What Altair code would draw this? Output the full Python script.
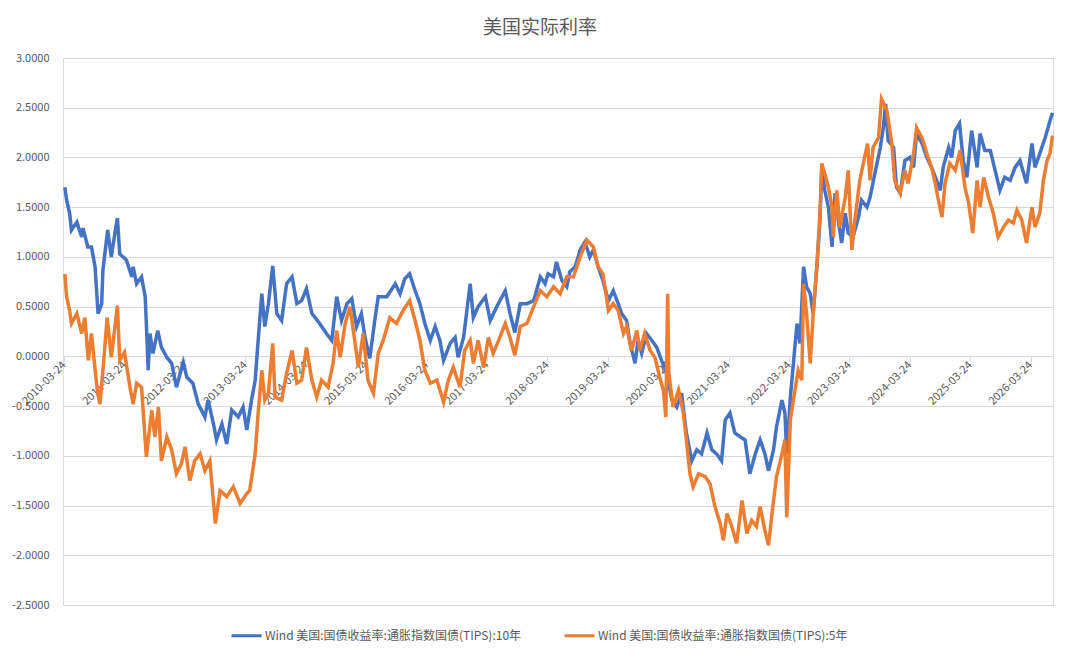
import altair as alt
import pandas as pd

TITLE = "美国实际利率"
NAME10 = "Wind 美国:国债收益率:通胀指数国债(TIPS):10年"
NAME5 = "Wind 美国:国债收益率:通胀指数国债(TIPS):5年"

# decimal-year positions and values
t10 = [2010.24, 2010.27, 2010.32, 2010.35, 2010.44, 2010.52, 2010.54, 2010.62, 2010.68, 2010.74,
       2010.79, 2010.85, 2010.87, 2010.95, 2011.01, 2011.07, 2011.11, 2011.15, 2011.26, 2011.35,
       2011.37, 2011.43, 2011.51, 2011.57, 2011.59, 2011.62, 2011.65, 2011.70, 2011.78, 2011.84,
       2011.93, 2012.01, 2012.09, 2012.20, 2012.26, 2012.36, 2012.45, 2012.56, 2012.61, 2012.70,
       2012.75, 2012.84, 2012.92, 2013.00, 2013.11, 2013.19, 2013.25, 2013.33, 2013.39, 2013.44,
       2013.50, 2013.55, 2013.61, 2013.68, 2013.75, 2013.83, 2013.91, 2014.00, 2014.08, 2014.16,
       2014.24, 2014.33, 2014.46, 2014.57, 2014.66, 2014.74, 2014.82, 2014.91, 2014.99, 2015.07,
       2015.15, 2015.21, 2015.29, 2015.37, 2015.43, 2015.57, 2015.71, 2015.79, 2015.87, 2015.95,
       2016.04, 2016.12, 2016.20, 2016.29, 2016.37, 2016.45, 2016.51, 2016.62, 2016.70, 2016.75,
       2016.84, 2016.95, 2017.00, 2017.08, 2017.20, 2017.28, 2017.39, 2017.53, 2017.61, 2017.69,
       2017.78, 2017.89, 2018.00, 2018.11, 2018.19, 2018.24, 2018.33, 2018.38, 2018.47, 2018.55,
       2018.60, 2018.69, 2018.77, 2018.85, 2018.93, 2018.99, 2019.07, 2019.15, 2019.24, 2019.32,
       2019.40, 2019.46, 2019.54, 2019.60, 2019.68, 2019.73, 2019.79, 2019.87, 2019.96, 2020.04,
       2020.12, 2020.20, 2020.29, 2020.37, 2020.45, 2020.53, 2020.62, 2020.70, 2020.78, 2020.87,
       2020.95, 2021.03, 2021.11, 2021.17, 2021.25, 2021.33, 2021.42, 2021.50, 2021.58, 2021.67,
       2021.75, 2021.83, 2021.89, 2021.97, 2022.02, 2022.11, 2022.16, 2022.19, 2022.25, 2022.36,
       2022.41, 2022.47, 2022.52, 2022.58, 2022.63, 2022.69, 2022.74, 2022.77, 2022.82, 2022.88,
       2022.94, 2022.99, 2023.05, 2023.10, 2023.16, 2023.21, 2023.29, 2023.38, 2023.43, 2023.52,
       2023.57, 2023.65, 2023.74, 2023.79, 2023.83, 2023.87, 2023.96, 2024.01, 2024.07, 2024.15,
       2024.23, 2024.29, 2024.34, 2024.43, 2024.51, 2024.59, 2024.67, 2024.73, 2024.78, 2024.87,
       2024.92, 2024.98, 2025.05, 2025.11, 2025.17, 2025.25, 2025.34, 2025.39, 2025.47, 2025.56,
       2025.64, 2025.72, 2025.80, 2025.89, 2025.97, 2026.05, 2026.16, 2026.25, 2026.30, 2026.38,
       2026.47, 2026.55, 2026.59]
v10 = [1.70, 1.57, 1.44, 1.27, 1.35, 1.20, 1.29, 1.10, 1.10, 0.90,
       0.43, 0.53, 0.86, 1.27, 1.00, 1.24, 1.39, 1.03, 0.97, 0.80,
       0.90, 0.73, 0.80, 0.60, 0.33, -0.14, 0.23, 0.03, 0.26, 0.09,
       -0.01, -0.07, -0.31, -0.06, -0.21, -0.27, -0.48, -0.61, -0.44, -0.68,
       -0.84, -0.68, -0.88, -0.54, -0.61, -0.51, -0.74, -0.44, -0.24, 0.16,
       0.63, 0.30, 0.53, 0.91, 0.43, 0.36, 0.73, 0.80, 0.53, 0.56,
       0.68, 0.43, 0.33, 0.23, 0.16, 0.60, 0.36, 0.53, 0.58, 0.30,
       0.43, 0.19, -0.02, 0.36, 0.60, 0.60, 0.73, 0.63, 0.78, 0.83,
       0.66, 0.53, 0.33, 0.16, 0.30, 0.16, -0.04, 0.13, 0.19, -0.01,
       0.19, 0.73, 0.39, 0.50, 0.60, 0.36, 0.50, 0.66, 0.43, 0.24,
       0.53, 0.53, 0.56, 0.80, 0.73, 0.83, 0.80, 0.95, 0.76, 0.70,
       0.85, 0.90, 1.07, 1.15, 1.00, 1.07, 0.90, 0.76, 0.56, 0.66,
       0.53, 0.43, 0.36, 0.13, -0.07, 0.16, 0.03, 0.23, 0.16, 0.09,
       -0.04, -0.17, -0.44, -0.51, -0.37, -0.77, -1.05, -0.94, -0.98, -0.77,
       -0.94, -0.98, -1.05, -0.64, -0.57, -0.77, -0.81, -0.84, -1.18, -0.98,
       -0.84, -0.98, -1.15, -0.94, -0.71, -0.44, -0.57, -0.98, -0.41, 0.33,
       0.13, 0.90, 0.70, 0.63, 0.43, 0.90, 1.37, 1.90, 1.67, 1.50,
       1.10, 1.64, 1.34, 1.14, 1.44, 1.24, 1.20, 1.40, 1.57, 1.50,
       1.60, 1.84, 2.10, 2.30, 2.54, 2.17, 2.10, 1.70, 1.64, 1.97,
       2.00, 1.90, 2.24, 2.14, 2.00, 1.90, 1.77, 1.67, 1.90, 2.10,
       2.00, 2.27, 2.34, 1.97, 1.80, 2.27, 1.90, 2.24, 2.07, 2.07,
       1.87, 1.67, 1.80, 1.77, 1.90, 1.97, 1.74, 2.14, 1.90, 2.04,
       2.20, 2.37, 2.45]

t5 = [2010.24, 2010.27, 2010.32, 2010.35, 2010.44, 2010.52, 2010.57, 2010.63, 2010.68, 2010.77,
      2010.82, 2010.88, 2010.94, 2011.01, 2011.11, 2011.15, 2011.23, 2011.32, 2011.37, 2011.43,
      2011.51, 2011.59, 2011.68, 2011.73, 2011.79, 2011.84, 2011.93, 2012.01, 2012.09, 2012.17,
      2012.23, 2012.31, 2012.39, 2012.48, 2012.56, 2012.64, 2012.73, 2012.81, 2012.92, 2013.03,
      2013.14, 2013.25, 2013.30, 2013.39, 2013.44, 2013.50, 2013.55, 2013.61, 2013.68, 2013.72,
      2013.83, 2013.91, 2014.00, 2014.08, 2014.16, 2014.24, 2014.33, 2014.41, 2014.49, 2014.60,
      2014.68, 2014.74, 2014.80, 2014.88, 2014.96, 2015.04, 2015.10, 2015.18, 2015.26, 2015.35,
      2015.43, 2015.51, 2015.62, 2015.73, 2015.84, 2015.95, 2016.04, 2016.12, 2016.20, 2016.29,
      2016.40, 2016.51, 2016.59, 2016.67, 2016.78, 2016.86, 2016.95, 2017.00, 2017.08, 2017.17,
      2017.25, 2017.33, 2017.42, 2017.53, 2017.61, 2017.69, 2017.78, 2017.89, 2018.00, 2018.11,
      2018.22, 2018.33, 2018.44, 2018.55, 2018.66, 2018.77, 2018.88, 2018.99, 2019.07, 2019.15,
      2019.24, 2019.32, 2019.40, 2019.49, 2019.54, 2019.62, 2019.71, 2019.76, 2019.84, 2019.93,
      2020.01, 2020.09, 2020.15, 2020.19, 2020.22, 2020.24, 2020.31, 2020.40, 2020.48, 2020.53,
      2020.59, 2020.64, 2020.73, 2020.84, 2020.92, 2021.00, 2021.09, 2021.14, 2021.20, 2021.28,
      2021.36, 2021.45, 2021.53, 2021.61, 2021.69, 2021.75, 2021.83, 2021.89, 2021.94, 2022.02,
      2022.11, 2022.16, 2022.19, 2022.25, 2022.30, 2022.38, 2022.44, 2022.47, 2022.52, 2022.58,
      2022.63, 2022.69, 2022.74, 2022.77, 2022.82, 2022.88, 2022.94, 2022.96, 2023.02, 2023.07,
      2023.16, 2023.21, 2023.27, 2023.32, 2023.40, 2023.46, 2023.53, 2023.57, 2023.62, 2023.71,
      2023.76, 2023.85, 2023.93, 2023.98, 2024.07, 2024.15, 2024.20, 2024.29, 2024.34, 2024.43,
      2024.51, 2024.59, 2024.65, 2024.70, 2024.76, 2024.81, 2024.89, 2024.98, 2025.06, 2025.14,
      2025.20, 2025.27, 2025.34, 2025.39, 2025.45, 2025.53, 2025.61, 2025.69, 2025.78, 2025.86,
      2025.94, 2026.00, 2026.08, 2026.16, 2026.25, 2026.30, 2026.38, 2026.44, 2026.50, 2026.55,
      2026.59]
v5 = [0.83, 0.60, 0.46, 0.33, 0.43, 0.23, 0.39, -0.04, 0.23, -0.31,
      -0.48, -0.07, 0.39, -0.01, 0.51, -0.04, 0.04, -0.31, -0.48, -0.27,
      -0.31, -1.01, -0.54, -0.81, -0.51, -1.05, -0.81, -0.94, -1.18, -1.08,
      -0.91, -1.25, -1.05, -0.98, -1.15, -1.05, -1.68, -1.35, -1.41, -1.31,
      -1.48, -1.38, -1.35, -0.98, -0.57, -0.14, -0.44, -0.37, 0.13, -0.41,
      -0.44, -0.17, 0.06, -0.27, -0.24, 0.09, -0.24, -0.41, -0.24, -0.31,
      -0.07, 0.26, -0.01, 0.33, 0.50, 0.16, -0.11, 0.23, -0.24, -0.37,
      0.03, 0.16, 0.39, 0.33, 0.46, 0.56, 0.36, 0.16, -0.14, -0.27,
      -0.24, -0.46, -0.24, -0.11, -0.31, 0.06, 0.16, -0.07, 0.16, -0.11,
      0.19, 0.03, 0.16, 0.33, 0.19, 0.01, 0.30, 0.33, 0.50, 0.66,
      0.60, 0.70, 0.63, 0.80, 0.80, 1.00, 1.17, 1.10, 0.90, 0.83,
      0.46, 0.53, 0.46, 0.23, 0.30, 0.06, 0.26, 0.06, 0.23, 0.06,
      -0.01, -0.21, -0.34, -0.61, 0.63, -0.17, -0.51, -0.34, -0.57, -0.84,
      -1.18, -1.31, -1.18, -1.21, -1.28, -1.51, -1.68, -1.85, -1.58, -1.71,
      -1.88, -1.45, -1.78, -1.65, -1.71, -1.51, -1.75, -1.90, -1.61, -1.21,
      -0.98, -0.84, -1.62, -0.64, -0.44, -0.14, -0.24, 0.73, 0.43, -0.07,
      0.43, 0.90, 1.44, 1.94, 1.84, 1.70, 1.50, 1.20, 1.67, 1.30,
      1.60, 1.87, 1.07, 1.37, 1.77, 1.94, 2.14, 1.77, 2.10, 2.20,
      2.59, 2.47, 2.14, 1.77, 1.64, 1.87, 1.74, 2.04, 2.30, 2.20,
      2.04, 1.90, 1.74, 1.57, 1.40, 1.74, 1.94, 1.87, 2.07, 1.70,
      1.54, 1.24, 1.77, 1.50, 1.80, 1.60, 1.44, 1.20, 1.30, 1.37,
      1.34, 1.47, 1.37, 1.14, 1.50, 1.30, 1.44, 1.77, 1.97, 2.04,
      2.22]

x_ticks = ["2010-03-24", "2011-03-24", "2012-03-24", "2013-03-24", "2014-03-24", "2015-03-24",
           "2016-03-24", "2017-03-24", "2018-03-24", "2019-03-24", "2020-03-24", "2021-03-24",
           "2022-03-24", "2023-03-24", "2024-03-24", "2025-03-24", "2026-03-24"]
x_domain = ["2010-03-18", "2026-08-07"]
y_ticks = [-2.5, -2.0, -1.5, -1.0, -0.5, 0.0, 0.5, 1.0, 1.5, 2.0, 2.5, 3.0]


def to_date(t):
    y = int(t)
    start = pd.Timestamp(year=y, month=1, day=1)
    end = pd.Timestamp(year=y + 1, month=1, day=1)
    return (start + (end - start) * (t - y)).normalize()


df10 = pd.DataFrame({"date": [to_date(t) for t in t10], "value": v10, "series": NAME10})
df5 = pd.DataFrame({"date": [to_date(t) for t in t5], "value": v5, "series": NAME5})


def dt(s):
    y, m, d = (int(p) for p in s.split("-"))
    return alt.DateTime(year=y, month=m, date=d)


GRAY = "#595959"
GRID = "#D9D9D9"
FONT = "Noto Sans CJK SC"

color = alt.Color(
    "series:N",
    scale=alt.Scale(domain=[NAME10, NAME5], range=["#4472C4", "#ED7D31"]),
    legend=alt.Legend(
        title=None, orient="none", legendX=167, legendY=561, direction="horizontal",
        symbolType="stroke", symbolStrokeWidth=3, symbolSize=900,
        labelFontSize=12, labelColor=GRAY, labelFont=FONT, labelOffset=2,
        columnPadding=36, labelLimit=400,
    ),
)

x = alt.X(
    "date:T",
    scale=alt.Scale(domain=[dt(s) for s in x_domain]),
    axis=alt.Axis(
        title=None, values=[dt(s) for s in x_ticks], format="%Y-%m-%d",
        labelAngle=315, labelAlign="right", labelBaseline="middle",
        labelFontSize=11, labelColor=GRAY, labelFont=FONT,
        labelOverlap=False, labelFlush=False, labelPadding=2,
        domainColor=GRID, tickColor=GRID, tickSize=5, grid=False, offset=-249,
    ),
)
y = alt.Y(
    "value:Q",
    scale=alt.Scale(domain=[-2.5, 3.0], nice=False, zero=False),
    axis=alt.Axis(
        title=None, values=y_ticks,
        labelExpr="replace(format(datum.value, '.4f'), '−', '-')",
        labelFontSize=11, labelColor=GRAY, labelFont=FONT, labelPadding=14,
        domain=False, ticks=False, grid=True, gridColor=GRID, gridWidth=1,
    ),
)

l10 = alt.Chart(df10).mark_line(strokeWidth=3.5).encode(x=x, y=y, color=color)
l5 = alt.Chart(df5).mark_line(strokeWidth=3.5).encode(x=x, y=y, color=color)

chart = (
    alt.layer(l10, l5)
    .properties(
        width=990, height=547,
        title=alt.TitleParams(TITLE, fontSize=19, font=FONT, color=GRAY, fontWeight="normal",
                              anchor="middle", dx=-18, offset=14),
        autosize=alt.AutoSizeParams(type="none"),
        padding={"left": 55, "top": 50, "right": 19, "bottom": 40},
    )
    .configure_view(stroke=None)
    .configure(background="white")
)

chart.save("out.html", embed_options={"renderer": "svg", "actions": False})
